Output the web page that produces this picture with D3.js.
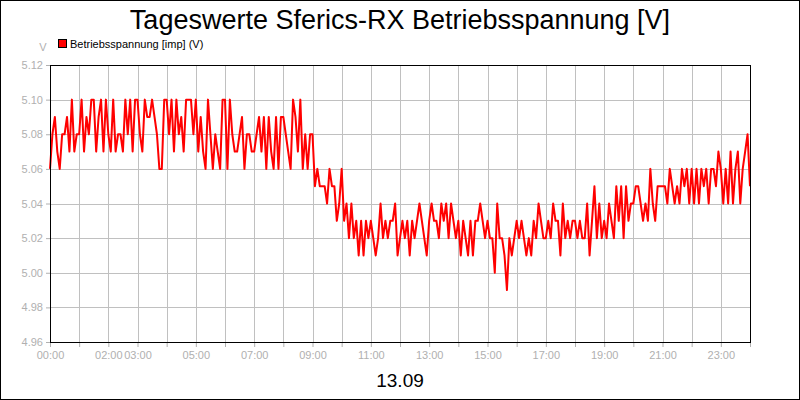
<!DOCTYPE html>
<html>
<head>
<meta charset="utf-8">
<script src="https://cdn.jsdelivr.net/npm/d3@7"></script>
<style>
  body { margin: 0; background: #fff; }
  svg { display: block; font-family: "Liberation Sans", Arial, sans-serif; }
</style>
</head>
<body>
<svg id="chart" width="800" height="400"></svg>
<script>
// 5-minute values, one row per hour (00..23), last row also holds 24:00
const hourlyValues = [
  [5.06, 5.08, 5.09, 5.07, 5.06, 5.08, 5.08, 5.09, 5.07, 5.10, 5.07, 5.08],
  [5.08, 5.10, 5.07, 5.09, 5.08, 5.10, 5.10, 5.07, 5.09, 5.10, 5.07, 5.10],
  [5.08, 5.07, 5.10, 5.07, 5.08, 5.08, 5.07, 5.10, 5.08, 5.10, 5.07, 5.10],
  [5.10, 5.08, 5.07, 5.10, 5.09, 5.09, 5.10, 5.09, 5.08, 5.06, 5.06, 5.10],
  [5.10, 5.08, 5.10, 5.07, 5.10, 5.08, 5.09, 5.07, 5.10, 5.10, 5.10, 5.08],
  [5.10, 5.07, 5.09, 5.07, 5.06, 5.10, 5.08, 5.06, 5.08, 5.07, 5.06, 5.10],
  [5.10, 5.06, 5.10, 5.08, 5.07, 5.07, 5.08, 5.09, 5.06, 5.08, 5.08, 5.07],
  [5.07, 5.08, 5.09, 5.07, 5.09, 5.06, 5.09, 5.07, 5.06, 5.09, 5.06, 5.09],
  [5.09, 5.08, 5.07, 5.06, 5.10, 5.09, 5.07, 5.10, 5.06, 5.08, 5.06, 5.08],
  [5.08, 5.05, 5.06, 5.05, 5.05, 5.05, 5.04, 5.06, 5.05, 5.05, 5.03, 5.04],
  [5.06, 5.03, 5.04, 5.02, 5.04, 5.02, 5.03, 5.01, 5.03, 5.01, 5.03, 5.02],
  [5.03, 5.02, 5.01, 5.02, 5.04, 5.02, 5.03, 5.02, 5.03, 5.03, 5.04, 5.01],
  [5.02, 5.03, 5.02, 5.03, 5.01, 5.03, 5.02, 5.03, 5.04, 5.03, 5.02, 5.01],
  [5.03, 5.04, 5.03, 5.03, 5.02, 5.04, 5.03, 5.04, 5.02, 5.04, 5.03, 5.02],
  [5.03, 5.01, 5.03, 5.02, 5.01, 5.03, 5.01, 5.03, 5.03, 5.04, 5.03, 5.02],
  [5.03, 5.02, 5.02, 5.00, 5.04, 5.02, 5.02, 5.01, 4.99, 5.02, 5.01, 5.02],
  [5.03, 5.02, 5.03, 5.02, 5.01, 5.02, 5.01, 5.03, 5.02, 5.04, 5.03, 5.02],
  [5.02, 5.03, 5.02, 5.04, 5.03, 5.03, 5.01, 5.04, 5.02, 5.03, 5.02, 5.03],
  [5.03, 5.02, 5.03, 5.02, 5.02, 5.04, 5.01, 5.03, 5.05, 5.02, 5.04, 5.02],
  [5.03, 5.02, 5.04, 5.03, 5.02, 5.05, 5.03, 5.05, 5.02, 5.05, 5.03, 5.04],
  [5.04, 5.05, 5.05, 5.04, 5.03, 5.04, 5.03, 5.06, 5.04, 5.03, 5.05, 5.05],
  [5.05, 5.05, 5.04, 5.06, 5.05, 5.04, 5.05, 5.04, 5.06, 5.05, 5.06, 5.04],
  [5.06, 5.04, 5.06, 5.04, 5.06, 5.05, 5.06, 5.04, 5.06, 5.06, 5.05, 5.07],
  [5.06, 5.04, 5.06, 5.04, 5.07, 5.04, 5.06, 5.07, 5.04, 5.06, 5.07, 5.08, 5.05]
]
const yTicks = [4.96, 4.98, 5.00, 5.02, 5.04, 5.06, 5.08, 5.10, 5.12]
const xLabelHours = [0, 2, 3, 5, 7, 9, 11, 13, 15, 17, 19, 21, 23]
const titleText = "Tageswerte Sferics-RX Betriebsspannung [V]"
const seriesName = "Betriebsspannung [imp] (V)"
const dateLabel = "13.09"

const values = hourlyValues.flat()
const data = values.map((v, i) => ({ h: i / 12, v: v }))

const svg = d3.select("#chart")
const margin = { top: 65, right: 50, bottom: 58, left: 50 }
const width = 800 - margin.left - margin.right
const height = 400 - margin.top - margin.bottom

svg.append("rect").attr("x", 0.5).attr("y", 0.5).attr("width", 799).attr("height", 399)
  .attr("fill", "#fff").attr("stroke", "#000")

const x = d3.scaleLinear().domain([0, 24]).range([0, width])
const y = d3.scaleLinear().domain([4.96, 5.12]).range([height, 0])

const g = svg.append("g").attr("transform", `translate(${margin.left},${margin.top})`)

// grid
g.append("g").selectAll("line").data(d3.range(1, 24)).join("line")
  .attr("x1", (d) => Math.round(x(d)) + 0.5).attr("x2", (d) => Math.round(x(d)) + 0.5)
  .attr("y1", 0).attr("y2", height).attr("stroke", "#c0c0c0")
g.append("g").selectAll("line").data(yTicks.slice(1, -1)).join("line")
  .attr("y1", (d) => Math.round(y(d)) + 0.5).attr("y2", (d) => Math.round(y(d)) + 0.5)
  .attr("x1", 0).attr("x2", width).attr("stroke", "#c0c0c0")

// axes
const xAxis = d3.axisBottom(x).tickValues(d3.range(0, 25)).tickSize(5).tickPadding(4)
  .tickFormat((d) => (xLabelHours.includes(d) ? String(d).padStart(2, "0") + ":00" : ""))
const yAxis = d3.axisLeft(y).tickValues(yTicks).tickSize(4).tickPadding(3).tickFormat(d3.format(".2f"))

const gx = g.append("g").attr("transform", `translate(0,${height})`).call(xAxis)
const gy = g.append("g").call(yAxis)
;[gx, gy].forEach((ax) => {
  ax.select(".domain").remove()
  ax.selectAll(".tick line").attr("stroke", "#b0b0b0")
  ax.selectAll(".tick text").attr("fill", "#b0b0b0").style("font-size", "11px")
    .style("font-family", "'Liberation Sans', Arial, sans-serif")
})

// series line
const line = d3.line().x((d) => x(d.h)).y((d) => y(d.v))
g.append("path").datum(data).attr("d", line).attr("fill", "none")
  .attr("stroke", "#ff0000").attr("stroke-width", 2).attr("stroke-linejoin", "round")

// plot frame
g.append("rect").attr("x", 0.5).attr("y", 0.5).attr("width", width).attr("height", height)
  .attr("fill", "none").attr("stroke", "#000")

// texts
svg.append("text").attr("x", 400).attr("y", 29).attr("text-anchor", "middle")
  .style("font-size", "27px").attr("fill", "#000").text(titleText)
svg.append("text").attr("x", 400).attr("y", 387).attr("text-anchor", "middle")
  .style("font-size", "19px").attr("fill", "#000").text(dateLabel)
svg.append("text").attr("x", 43).attr("y", 51).attr("text-anchor", "middle")
  .style("font-size", "11px").attr("fill", "#b0b0b0").text("V")

// legend
svg.append("rect").attr("x", 58.5).attr("y", 39.5).attr("width", 8).attr("height", 8)
  .attr("fill", "#ff0000").attr("stroke", "#000")
svg.append("text").attr("x", 70).attr("y", 48).style("font-size", "11px")
  .attr("fill", "#000").text(seriesName)
</script>
</body>
</html>
